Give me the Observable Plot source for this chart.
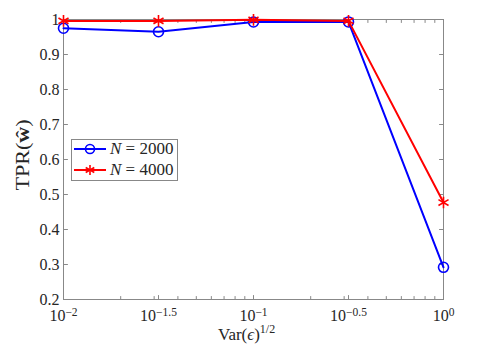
<!DOCTYPE html>
<html><head><meta charset="utf-8">
<script src="https://cdn.jsdelivr.net/npm/d3@7"></script>
<script src="https://cdn.jsdelivr.net/npm/@observablehq/plot@0.6"></script>
<style>
body{margin:0;background:#fff}
#c{position:relative;width:479px;height:348px;font-family:"Liberation Serif",serif;color:#262626}
#c svg text{font-family:"Liberation Serif",serif !important}
.lab{position:absolute;font-size:17px;white-space:nowrap;line-height:1}
#legend{position:absolute;left:71px;top:139px;width:107px;height:42px;border:1px solid #888;background:#fff;box-sizing:border-box}
.row{position:absolute;left:1px;height:18px;display:flex;align-items:center;font-size:17px;white-space:nowrap}
</style>
</head><body>
<div id="c"></div>
<script>
// data
const xExponents = [-2, -1.5, -1, -0.5, 0];
const tpr2000 = [0.975, 0.965, 0.993, 0.993, 0.292];
const tpr4000 = [0.996, 0.996, 0.999, 0.996, 0.477];
const seriesNames = ["N = 2000", "N = 4000"];
const yTicks = [0.2, 0.3, 0.4, 0.5, 0.6, 0.7, 0.8, 0.9, 1];
const xTickLabels = ["\u22122", "\u22121.5", "\u22121", "\u22120.5", "0"];
const minorX = [0.02,0.03,0.04,0.05,0.06,0.07,0.08,0.09,0.2,0.3,0.4,0.5,0.6,0.7,0.8,0.9];

const xValues = xExponents.map(e => Math.pow(10, e));
const d2000 = xValues.map((x, i) => ({x, y: tpr2000[i]}));
const d4000 = xValues.map((x, i) => ({x, y: tpr4000[i]}));

const tickShape = {draw(ctx, l) { ctx.moveTo(0, 0); ctx.lineTo(0, -l); }};
const axisColor = "#888";
const tickLen = 4;
const vt = (data, acc, anchor, rotate, len) => Plot.vector(data, {
  ...acc, frameAnchor: anchor, rotate, length: len, anchor: "start", shape: tickShape,
  stroke: axisColor, strokeWidth: 1
});

const chart = Plot.plot({
  width: 479, height: 348,
  marginLeft: 63, marginRight: 36, marginTop: 19, marginBottom: 49,
  style: {fontFamily: "'Liberation Serif', serif", fontSize: "16px", color: "#262626", background: "#fff"},
  x: {type: "log", domain: [0.01, 1]},
  y: {domain: [0.2, 1]},
  marks: [
    vt(xValues, {x: d => d}, "bottom", 0, tickLen),
    vt(xValues, {x: d => d}, "top", 180, tickLen),
    vt(minorX, {x: d => d}, "bottom", 0, 3),
    vt(minorX, {x: d => d}, "top", 180, 3),
    vt(yTicks, {y: d => d}, "left", 90, tickLen),
    vt(yTicks, {y: d => d}, "right", -90, tickLen),
    Plot.frame({stroke: axisColor, strokeWidth: 1}),
    Plot.axisY({ticks: yTicks, tickSize: 0, tickPadding: 4, label: null, fontSize: 16,
      tickFormat: d => d === 1 ? "1" : d.toFixed(1), fill: "#262626"}),
    Plot.axisX({ticks: xValues, tickSize: 0, tickPadding: 10, label: null, fontSize: 16,
      tickFormat: d => xTickLabels[xValues.findIndex(v => Math.abs(v - d) < 1e-9)], fill: "#262626"}),
    Plot.line(d2000, {x: "x", y: "y", stroke: "#0000ff", strokeWidth: 2}),
    Plot.dot(d2000, {x: "x", y: "y", r: 5, stroke: "#0000ff", strokeWidth: 1.6, fill: "none"}),
    Plot.line(d4000, {x: "x", y: "y", stroke: "#ff0000", strokeWidth: 2}),
    Plot.dot(d4000, {x: "x", y: "y", r: 5.5, symbol: "asterisk", stroke: "#ff0000", strokeWidth: 1.6})
  ]
});

// superscript exponents on x tick labels
d3.select(chart).selectAll('g[aria-label="x-axis tick label"] text').each(function() {
  const t = d3.select(this);
  const e = t.text();
  t.text("");
  t.append("tspan").text("10");
  t.append("tspan").attr("dy", "-0.45em").attr("font-size", "11.5px").text(e);
});
d3.select(chart).selectAll("text").attr("font-family", "'Liberation Serif', serif");

const c = document.getElementById("c");
c.appendChild(chart);

// axis titles
const xl = document.createElement("div");
xl.className = "lab";
xl.innerHTML = 'Var(<i>\u03f5</i>)<sup style="font-size:12px;vertical-align:0.6em;line-height:0">1/2</sup>';
xl.style.left = "218px"; xl.style.top = "326px";
c.appendChild(xl);

const yl = document.createElement("div");
yl.className = "lab";
yl.innerHTML = 'TPR(<b>\u0175</b>)';
yl.style.left = "23px"; yl.style.top = "155px";
yl.style.transform = "translate(-50%,-50%) rotate(-90deg) scale(1.3,1.05)";
c.appendChild(yl);

// legend
const lg = document.createElement("div");
lg.id = "legend";
const mk = [
  '<circle cx="17" cy="9" r="4.5" fill="none" stroke="#0000ff" stroke-width="1.6"/>',
  '<g stroke="#ff0000" stroke-width="1.6"><line x1="17" y1="4" x2="17" y2="14"/><line x1="12.7" y1="6.5" x2="21.3" y2="11.5"/><line x1="12.7" y1="11.5" x2="21.3" y2="6.5"/></g>'
];
const cols = ["#0000ff", "#ff0000"];
seriesNames.forEach((n, i) => {
  const r = document.createElement("div");
  r.className = "row";
  r.style.top = (i === 0 ? 0 : 21) + "px";
  const parts = n.split(" = ");
  r.innerHTML = `<svg width="34" height="18"><line x1="1" y1="9" x2="33" y2="9" stroke="${cols[i]}" stroke-width="2"/>${mk[i]}</svg>` +
    `<span style="margin-left:3px"><i>${parts[0]}</i> = ${parts[1]}</span>`;
  lg.appendChild(r);
});
c.appendChild(lg);
</script>
</body></html>
